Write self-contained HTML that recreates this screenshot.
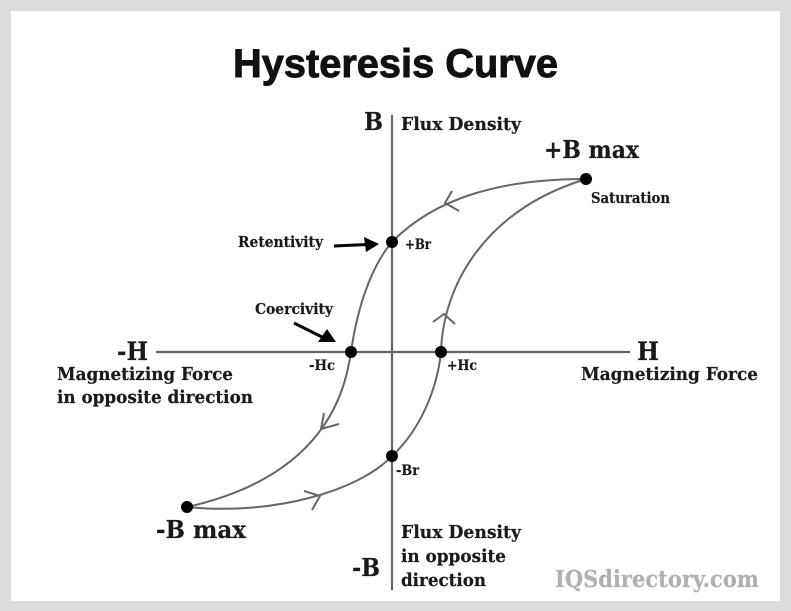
<!DOCTYPE html>
<html>
<head>
<meta charset="utf-8">
<style>
html,body{margin:0;padding:0;background:#dcdcdc;}
svg{display:block;}
text{font-family:"DejaVu Serif","Liberation Serif",serif;font-weight:bold;fill:#1a1a1a;stroke:#1a1a1a;stroke-width:0.2px;}
</style>
</head>
<body>
<svg width="791" height="611" viewBox="0 0 791 611" xmlns="http://www.w3.org/2000/svg">
<rect width="791" height="611" fill="#dcdcdc"/>
<rect x="11" y="11" width="769" height="590" fill="#ffffff"/>

<text x="233" y="77" font-size="40" textLength="325" lengthAdjust="spacingAndGlyphs" style="font-family:'Liberation Sans',sans-serif;fill:#111;stroke:#111;stroke-width:0.9px">Hysteresis Curve</text>

<line x1="392" y1="115" x2="392" y2="590" stroke="#666" stroke-width="2.2"/>
<line x1="156" y1="352" x2="630" y2="352" stroke="#666" stroke-width="2.2"/>

<g fill="none" stroke="#666" stroke-width="2">
<path d="M586 179 C500 179 435 198 392 242 C370 268 357 310 351 352 C345 392 325 476 187 507"/>
<path d="M187 507 C275 516 360 490 392 456 C420 430 437 390 441 352 C443 285 485 210 586 179"/>
<path d="M452 191 L445 203 L459 211"/>
<path d="M433 322 L444 314 L455 324"/>
<path d="M324 413 L321 429 L339 424"/>
<path d="M304 491 L320 496 L312 510"/>
</g>

<g fill="#000">
<circle cx="586" cy="179" r="6"/>
<circle cx="392" cy="242" r="6"/>
<circle cx="351" cy="352" r="6"/>
<circle cx="441" cy="352" r="6"/>
<circle cx="392" cy="456" r="6"/>
<circle cx="187" cy="507" r="6"/>
<polygon points="379,244 364,237 366,252"/>
<polygon points="336,342 318,342 327,329"/>
</g>
<line x1="334" y1="246" x2="367" y2="244.5" stroke="#000" stroke-width="3"/>
<line x1="294" y1="323" x2="324" y2="338" stroke="#000" stroke-width="3"/>

<text x="364" y="130" font-size="24" textLength="19" lengthAdjust="spacingAndGlyphs">B</text>
<text x="401" y="130" font-size="18" textLength="120" lengthAdjust="spacingAndGlyphs">Flux Density</text>
<text x="544" y="158" font-size="24" textLength="95" lengthAdjust="spacingAndGlyphs">+B max</text>
<text x="591" y="203" font-size="14.5" textLength="79" lengthAdjust="spacingAndGlyphs">Saturation</text>
<text x="238" y="247" font-size="14.5" textLength="85" lengthAdjust="spacingAndGlyphs">Retentivity</text>
<text x="405" y="249" font-size="14" textLength="26" lengthAdjust="spacingAndGlyphs">+Br</text>
<text x="255" y="314" font-size="14.5" textLength="78" lengthAdjust="spacingAndGlyphs">Coercivity</text>
<text x="117" y="360" font-size="25" textLength="31" lengthAdjust="spacingAndGlyphs">-H</text>
<text x="637" y="360" font-size="25" textLength="22" lengthAdjust="spacingAndGlyphs">H</text>
<text x="309" y="370" font-size="14" textLength="26" lengthAdjust="spacingAndGlyphs">-Hc</text>
<text x="447" y="370" font-size="14" textLength="30" lengthAdjust="spacingAndGlyphs">+Hc</text>
<text x="57" y="380" font-size="18" textLength="176" lengthAdjust="spacingAndGlyphs">Magnetizing Force</text>
<text x="57" y="403" font-size="18" textLength="196" lengthAdjust="spacingAndGlyphs">in opposite direction</text>
<text x="581" y="380" font-size="18" textLength="177" lengthAdjust="spacingAndGlyphs">Magnetizing Force</text>
<text x="396" y="475" font-size="14" textLength="23" lengthAdjust="spacingAndGlyphs">-Br</text>
<text x="156" y="538" font-size="24" textLength="90" lengthAdjust="spacingAndGlyphs">-B max</text>
<text x="401" y="538" font-size="18" textLength="120" lengthAdjust="spacingAndGlyphs">Flux Density</text>
<text x="401" y="562" font-size="18" textLength="105" lengthAdjust="spacingAndGlyphs">in opposite</text>
<text x="401" y="586" font-size="18" textLength="85" lengthAdjust="spacingAndGlyphs">direction</text>
<text x="352" y="576" font-size="24" textLength="28" lengthAdjust="spacingAndGlyphs">-B</text>
<text x="555" y="587" font-size="23" textLength="204" lengthAdjust="spacingAndGlyphs" style="fill:#b0b0b0;stroke:#b0b0b0">IQSdirectory.com</text>
</svg>
</body>
</html>
